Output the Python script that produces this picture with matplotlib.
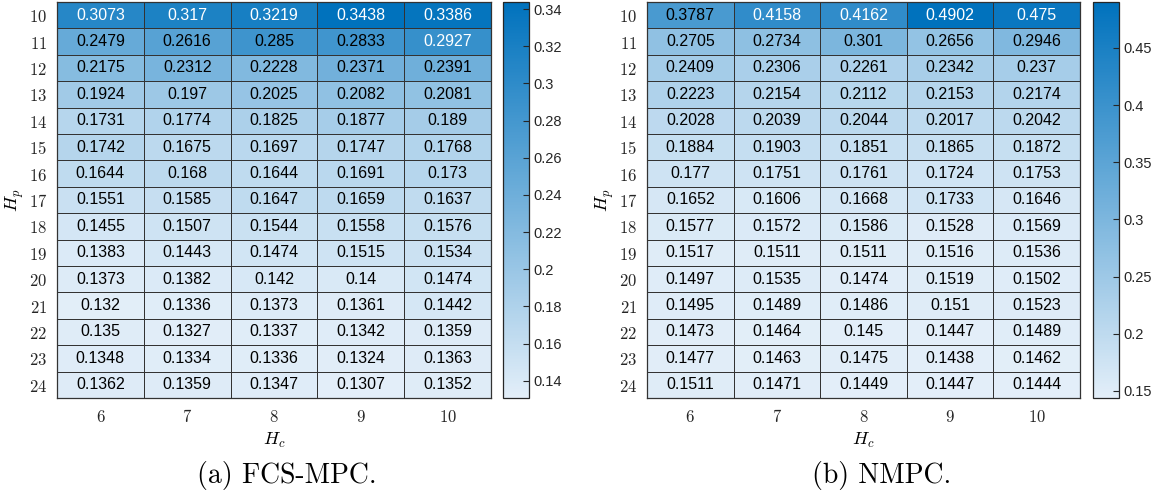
import numpy as np
import matplotlib
matplotlib.use('Agg')
import matplotlib.pyplot as plt
from matplotlib.colors import LinearSegmentedColormap

plt.rcParams['mathtext.fontset'] = 'cm'

# horizontes
Hp = [10, 11, 12, 13, 14, 15, 16, 17, 18, 19, 20, 21, 22, 23, 24]
Hc = [6, 7, 8, 9, 10]

# costo FCS-MPC (filas: Hp, columnas: Hc)
fcs = [
    [0.3073, 0.317, 0.3219, 0.3438, 0.3386],
    [0.2479, 0.2616, 0.285, 0.2833, 0.2927],
    [0.2175, 0.2312, 0.2228, 0.2371, 0.2391],
    [0.1924, 0.197, 0.2025, 0.2082, 0.2081],
    [0.1731, 0.1774, 0.1825, 0.1877, 0.189],
    [0.1742, 0.1675, 0.1697, 0.1747, 0.1768],
    [0.1644, 0.168, 0.1644, 0.1691, 0.173],
    [0.1551, 0.1585, 0.1647, 0.1659, 0.1637],
    [0.1455, 0.1507, 0.1544, 0.1558, 0.1576],
    [0.1383, 0.1443, 0.1474, 0.1515, 0.1534],
    [0.1373, 0.1382, 0.142, 0.14, 0.1474],
    [0.132, 0.1336, 0.1373, 0.1361, 0.1442],
    [0.135, 0.1327, 0.1337, 0.1342, 0.1359],
    [0.1348, 0.1334, 0.1336, 0.1324, 0.1363],
    [0.1362, 0.1359, 0.1347, 0.1307, 0.1352],
]

# costo NMPC
nmpc = [
    [0.3787, 0.4158, 0.4162, 0.4902, 0.475],
    [0.2705, 0.2734, 0.301, 0.2656, 0.2946],
    [0.2409, 0.2306, 0.2261, 0.2342, 0.237],
    [0.2223, 0.2154, 0.2112, 0.2153, 0.2174],
    [0.2028, 0.2039, 0.2044, 0.2017, 0.2042],
    [0.1884, 0.1903, 0.1851, 0.1865, 0.1872],
    [0.177, 0.1751, 0.1761, 0.1724, 0.1753],
    [0.1652, 0.1606, 0.1668, 0.1733, 0.1646],
    [0.1577, 0.1572, 0.1586, 0.1528, 0.1569],
    [0.1517, 0.1511, 0.1511, 0.1516, 0.1536],
    [0.1497, 0.1535, 0.1474, 0.1519, 0.1502],
    [0.1495, 0.1489, 0.1486, 0.151, 0.1523],
    [0.1473, 0.1464, 0.145, 0.1447, 0.1489],
    [0.1477, 0.1463, 0.1475, 0.1438, 0.1462],
    [0.1511, 0.1471, 0.1449, 0.1447, 0.1444],
]

fcs_ticks = [0.14, 0.16, 0.18, 0.2, 0.22, 0.24, 0.26, 0.28, 0.3, 0.32, 0.34]
nmpc_ticks = [0.15, 0.2, 0.25, 0.3, 0.35, 0.4, 0.45]

cmap = LinearSegmentedColormap.from_list(
    'azul', [(0.89, 0.935, 0.975), (0.0, 0.447, 0.741)])

W, H = 1161., 495.
fig = plt.figure(figsize=(W/100, H/100), dpi=100)


def panel(x0, x1, cx0, cx1, datos, ticks, titulo, xcap):
    C = np.array(datos)
    ax = fig.add_axes([x0/W, 1 - 398/H, (x1-x0)/W, 396/H])
    vmin, vmax = C.min(), C.max()
    m = ax.pcolormesh(C, cmap=cmap, vmin=vmin, vmax=vmax,
                      edgecolors='#333333', linewidth=0.6)
    ax.set_xlim(0, len(Hc)); ax.set_ylim(len(Hp), 0)
    for i in range(len(Hp)):
        for j in range(len(Hc)):
            v = C[i, j]
            col = 'white' if (v - vmin)/(vmax - vmin) > 0.745 else 'black'
            ax.text(j + 0.5, i + 0.5, '%.4g' % v, ha='center', va='center',
                    color=col, fontsize=11.5, family='Liberation Sans')
    ax.set_xticks(np.arange(len(Hc)) + 0.5)
    ax.set_xticklabels(['$%d$' % h for h in Hc], fontsize=12)
    ax.set_yticks(np.arange(len(Hp)) + 0.5)
    ax.set_yticklabels(['$%d$' % h for h in Hp], fontsize=12)
    ax.tick_params(length=0, pad=7, colors='#262626')
    for s in ax.spines.values():
        s.set_color('#333333'); s.set_linewidth(0.9)
    ax.set_xlabel('$H_c$', fontsize=13, labelpad=4)
    ax.set_ylabel('$H_p$', fontsize=13, labelpad=2)

    cax = fig.add_axes([cx0/W, 1 - 398/H, (cx1-cx0)/W, 396/H])
    cb = fig.colorbar(m, cax=cax, ticks=ticks)
    cb.ax.set_yticklabels(['%g' % t for t in ticks])
    cb.ax.tick_params(direction='in', length=4, width=0.8, labelsize=10.5,
                      colors='#262626', pad=3)
    for lbl in cb.ax.get_yticklabels():
        lbl.set_family('Liberation Sans')
    cb.outline.set_edgecolor('#262626'); cb.outline.set_linewidth(0.9)

    fig.text(xcap/W, 1 - 476/H, titulo, ha='center', va='center',
             fontsize=20, family='cmr10')


panel(57, 491, 503, 529, fcs, fcs_ticks, '(a) FCS-MPC.', 287)
panel(647, 1080, 1093, 1119, nmpc, nmpc_ticks, '(b) NMPC.', 882)

plt.savefig('out.png', dpi=100)
